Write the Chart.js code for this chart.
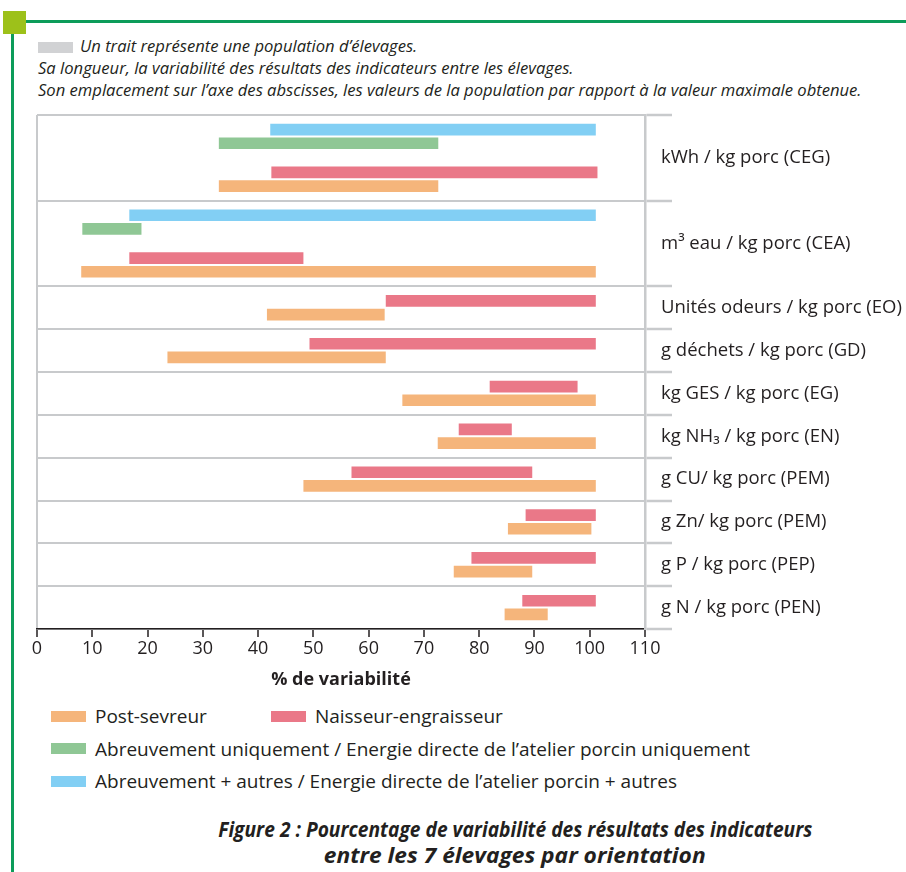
<!DOCTYPE html>
<html lang="fr">
<head>
<meta charset="utf-8">
<script src="https://cdn.jsdelivr.net/npm/chart.js@4"></script>
<style>
  html, body { margin: 0; padding: 0; background: #fff; }
  body { width: 906px; height: 872px; position: relative; overflow: hidden; font-family: 'Open Sans', sans-serif; color: #231f20; }
  .abs { position: absolute; }
  #note { left: 38px; top: 35px; font-style: italic; font-size: 16.6px; line-height: 22px; white-space: nowrap; }
  #note .sw { display: inline-block; width: 35px; height: 11px; background: #d1d2d4; vertical-align: -1px; margin-right: 7px; }
  #legend { left: 51px; top: 700px; font-size: 19px; }
  .lrow { height: 32.5px; display: flex; align-items: center; white-space: nowrap; }
  .litem { display: flex; align-items: center; }
  .lbox { width: 35px; height: 11px; margin-right: 9px; }
  #caption { left: 120px; width: 790px; top: 815px; text-align: center; font-weight: 700; font-style: italic; font-size: 22px; line-height: 26px; }
  #caption span { display: inline-block; white-space: nowrap; transform-origin: 50% 50%; }
</style>
</head>
<body>
<div class="abs" style="left:3px;top:11px;width:23px;height:23px;background:#9dc11a"></div>
<div class="abs" style="left:26px;top:20px;width:880px;height:3px;background:#0c9c5a"></div>
<div class="abs" style="left:11px;top:34px;width:3px;height:838px;background:#0c9c5a"></div>

<div id="note" class="abs">
  <div><span class="sw"></span>Un trait représente une population d’élevages.</div>
  <div>Sa longueur, la variabilité des résultats des indicateurs entre les élevages.</div>
  <div>Son emplacement sur l’axe des abscisses, les valeurs de la population par rapport à la valeur maximale obtenue.</div>
</div>

<canvas id="chart" class="abs" style="left:0;top:100px" width="906" height="600"></canvas>

<div id="legend" class="abs"></div>

<div id="caption" class="abs">
  <span>Figure 2 : Pourcentage de variabilité des résultats des indicateurs</span><br>
  <span>entre les 7 élevages par orientation</span>
</div>

<script>
// ---- Data ----
const indicators = [
  'kWh / kg porc (CEG)',
  'm³ eau / kg porc (CEA)',
  'Unités odeurs / kg porc (EO)',
  'g déchets / kg porc (GD)',
  'kg GES / kg porc (EG)',
  'kg NH₃ / kg porc (EN)',
  'g CU/ kg porc (PEM)',
  'g Zn/ kg porc (PEM)',
  'g P / kg porc (PEP)',
  'g N / kg porc (PEN)'
];
// [min, max] in % of the maximum value obtained
const postSevreur = [
  [32.9, 72.6], [8.0, 101.1], [41.6, 62.9], [23.6, 63.1], [66.1, 101.1],
  [72.5, 101.1], [48.2, 101.1], [85.2, 100.3], [75.4, 89.6], [84.6, 92.4]
];
const naisseurEngraisseur = [
  [42.4, 101.4], [16.7, 48.2], [63.1, 101.1], [49.3, 101.1], [81.9, 97.8],
  [76.3, 85.9], [56.9, 89.6], [88.4, 101.1], [78.6, 101.1], [87.8, 101.1]
];
const abreuvementUniquement = [
  [32.9, 72.6], [8.2, 18.9], null, null, null, null, null, null, null, null
];
const abreuvementAutres = [
  [42.2, 101.1], [16.7, 101.1], null, null, null, null, null, null, null, null
];
const xTicks = [0, 10, 20, 30, 40, 50, 60, 70, 80, 90, 100, 110];

const seriesNames = {
  post: 'Post-sevreur',
  naisseur: 'Naisseur-engraisseur',
  uniq: 'Abreuvement uniquement / Energie directe de l’atelier porcin uniquement',
  autres: 'Abreuvement + autres / Energie directe de l’atelier porcin + autres'
};
const colors = {
  post: '#f5b57b',
  naisseur: '#ea7888',
  uniq: '#8fc795',
  autres: '#82cff4'
};

// ---- Band structure: indicators with 4 series take two bands ----
const bands = []; // {ind, part}
indicators.forEach((name, i) => {
  if (abreuvementUniquement[i] || abreuvementAutres[i]) {
    bands.push({ ind: i, part: 'top' });
    bands.push({ ind: i, part: 'bottom' });
  } else {
    bands.push({ ind: i, part: 'both' });
  }
});
const bandLabels = bands.map((b, k) => indicators[b.ind] + '#' + k);
const topSeries = (arr) => bands.map(b => b.part === 'top' ? arr[b.ind] : null);
const bottomSeries = (arr) => bands.map(b => b.part !== 'top' ? arr[b.ind] : null);

// label axis ticks: boundaries between indicators and indicator centres
const boundaries = [0];
const centres = [];
{
  let pos = 0;
  indicators.forEach((name, i) => {
    const n = bands.filter(b => b.ind === i).length;
    centres.push({ v: pos + n / 2, name });
    pos += n;
    boundaries.push(pos);
  });
}
const labelTickValues = boundaries.concat(centres.map(c => c.v)).sort((a, b) => a - b);
const isBoundary = (v) => boundaries.some(b => Math.abs(b - v) < 1e-9);
const nameAt = (v) => { const c = centres.find(c => Math.abs(c.v - v) < 1e-9); return c ? c.name : ''; };

// ---- HTML legend built from the series names/colours ----
const legendRows = [['post', 'naisseur'], ['uniq'], ['autres']];
const legendEl = document.getElementById('legend');
legendRows.forEach(row => {
  const r = document.createElement('div');
  r.className = 'lrow';
  row.forEach((key, j) => {
    const it = document.createElement('div');
    it.className = 'litem';
    if (j > 0) it.style.marginLeft = '64px';
    const box = document.createElement('span');
    box.className = 'lbox';
    box.style.background = colors[key];
    const t = document.createElement('span');
    t.textContent = seriesNames[key];
    it.appendChild(box); it.appendChild(t);
    r.appendChild(it);
  });
  legendEl.appendChild(r);
});

// caption condensed look
document.querySelectorAll('#caption span').forEach((s, i) => {
  const target = i === 0 ? 594 : 382;
  const w = s.getBoundingClientRect().width;
  if (w > 0) s.style.transform = 'scaleX(' + (target / w).toFixed(3) + ')';
});

// ---- Chart ----
const GRAY = '#c8cacc';
const TEXT = '#231f20';
Chart.defaults.font.family = "'Open Sans', sans-serif";
Chart.defaults.color = TEXT;

const barCommon = {
  borderWidth: 0,
  borderSkipped: false,
  categoryPercentage: 0.64,
  barPercentage: 0.85,
  skipNull: true,
  xAxisID: 'x',
  yAxisID: 'y'
};

new Chart(document.getElementById('chart'), {
  type: 'bar',
  data: {
    labels: bandLabels,
    datasets: [
      Object.assign({ label: seriesNames.autres, data: topSeries(abreuvementAutres), backgroundColor: colors.autres }, barCommon),
      Object.assign({ label: seriesNames.uniq, data: topSeries(abreuvementUniquement), backgroundColor: colors.uniq }, barCommon),
      Object.assign({ label: seriesNames.naisseur, data: bottomSeries(naisseurEngraisseur), backgroundColor: colors.naisseur }, barCommon),
      Object.assign({ label: seriesNames.post, data: bottomSeries(postSevreur), backgroundColor: colors.post }, barCommon)
    ]
  },
  options: {
    indexAxis: 'y',
    responsive: false,
    animation: false,
    events: [],
    layout: { padding: { left: 37, top: 15, right: 0, bottom: 0 } },
    plugins: { legend: { display: false }, tooltip: { enabled: false }, title: { display: false } },
    scales: {
      x: {
        type: 'linear', position: 'bottom', min: 0, max: 110, z: 1, offset: false,
        afterBuildTicks: (s) => { s.ticks = xTicks.map(v => ({ value: v })); },
        afterFit: (s) => { s.height = 71; },
        grid: {
          offset: false,
          color: (ctx) => (ctx.tick && (ctx.tick.value === 0 || ctx.tick.value === 110)) ? GRAY : 'rgba(0,0,0,0)',
          lineWidth: 2,
          drawTicks: true, tickLength: 8, tickColor: TEXT, tickWidth: 1.5
        },
        border: { display: true, color: TEXT, width: 1.5 },
        ticks: { font: { size: 18 }, color: TEXT, padding: 1, autoSkip: false, maxRotation: 0 },
        title: { display: true, text: '% de variabilité', font: { size: 18, weight: 'bold' }, color: TEXT, padding: { top: 0, bottom: 9 } }
      },
      y: {
        type: 'category', display: false, offset: true
      },
      yLab: {
        axis: 'y', type: 'linear', position: 'right', reverse: true, offset: false,
        min: 0, max: boundaries[boundaries.length - 1],
        afterBuildTicks: (s) => { s.ticks = labelTickValues.map(v => ({ value: v })); },
        afterFit: (s) => { s.width = 261; },
        grid: {
          offset: false,
          color: (ctx) => (ctx.tick && isBoundary(ctx.tick.value)) ? GRAY : 'rgba(0,0,0,0)',
          tickColor: (ctx) => (ctx.tick && isBoundary(ctx.tick.value)) ? GRAY : 'rgba(0,0,0,0)',
          lineWidth: 2, tickWidth: 2.5, tickLength: 27, drawTicks: true
        },
        border: { display: true, color: GRAY, width: 2.5 },
        ticks: {
          autoSkip: false, padding: -11, font: { size: 18.5 }, color: TEXT,
          callback: (value) => nameAt(value)
        }
      }
    }
  }
});
</script>
</body>
</html>
